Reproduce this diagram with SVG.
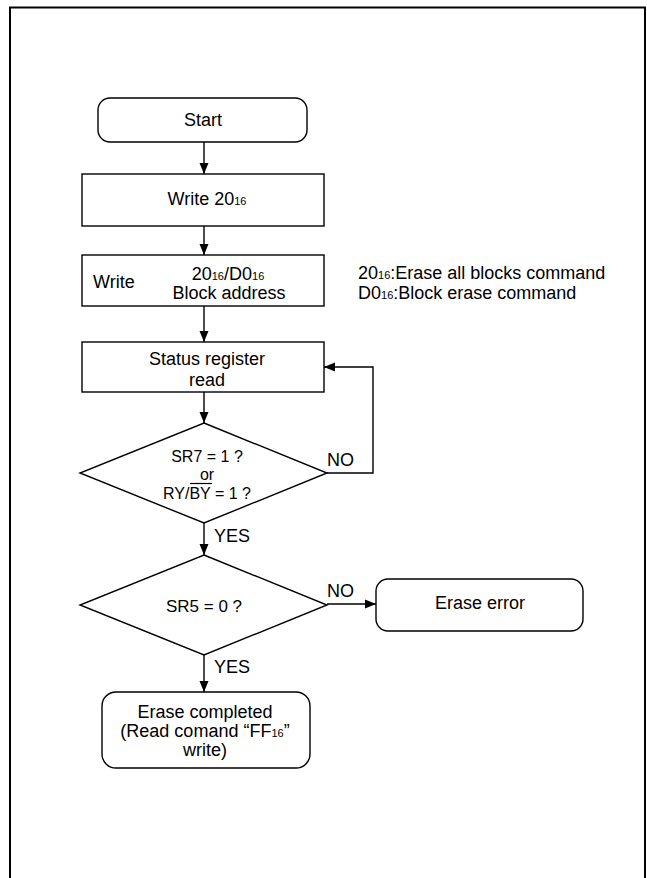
<svg xmlns="http://www.w3.org/2000/svg" width="647" height="878" viewBox="0 0 647 878">
<style>
.box{fill:#fff;stroke:#000;stroke-width:1.4}
.t{font-family:"Liberation Sans",Arial,sans-serif;font-size:18px;fill:#000}
.s{font-size:16px}
.c{text-anchor:middle}
.sub{font-size:11px}
.ln{fill:none;stroke:#000;stroke-width:1.4}
</style>
<defs>
<marker id="ah" markerUnits="userSpaceOnUse" markerWidth="12" markerHeight="12" viewBox="0 0 12 12" refX="11" refY="6" orient="auto">
<path d="M0,1.5 L11,6 L0,10.5 Z" fill="#000"/>
</marker>
</defs>
<rect x="10" y="7.5" width="635" height="900" fill="#fff" stroke="#000" stroke-width="2"/>

<g id="start">
<rect class="box" x="98" y="98" width="209" height="44" rx="12"/>
<text class="t c" x="203" y="126">Start</text>
</g>
<g id="write20">
<rect class="box" x="82" y="174" width="242" height="52"/>
<text class="t c" x="207" y="205">Write 20<tspan class="sub">16</tspan></text>
</g>
<g id="writeblock">
<rect class="box" x="82" y="255" width="242" height="51"/>
<text class="t" x="93" y="288">Write</text>
<text class="t c" x="228" y="280">20<tspan class="sub">16</tspan>/D0<tspan class="sub">16</tspan></text>
<text class="t c" x="229" y="299">Block address</text>
</g>
<g id="note">
<text class="t" x="358" y="279">20<tspan class="sub">16</tspan>:Erase all blocks command</text>
<text class="t" x="358" y="299">D0<tspan class="sub">16</tspan>:Block erase command</text>
</g>
<g id="status">
<rect class="box" x="82" y="342" width="242" height="50"/>
<text class="t c" x="207" y="365">Status register</text>
<text class="t c" x="207" y="386">read</text>
</g>
<g id="dec1">
<polygon class="box" points="204,423 327,473 204,523 80,473"/>
<text class="t s c" x="207" y="462">SR7 = 1 ?</text>
<text class="t s c" x="207" y="480">or</text>
<text class="t s c" x="207" y="499">RY/BY = 1 ?</text>
<line x1="190" y1="483.5" x2="212" y2="483.5" stroke="#000" stroke-width="1.2"/>
</g>
<g id="dec2">
<polygon class="box" points="204,555 327,605 204,655 80,605"/>
<text class="t c" x="204" y="612" style="font-size:17px">SR5 = 0 ?</text>
</g>
<g id="error">
<rect class="box" x="376" y="579" width="207" height="52" rx="12"/>
<text class="t c" x="480" y="609">Erase error</text>
</g>
<g id="done">
<rect class="box" x="102" y="692" width="208" height="76" rx="14"/>
<text class="t c" x="205" y="718">Erase completed</text>
<text class="t c" x="205" y="737">(Read comand “FF<tspan class="sub">16</tspan>”</text>
<text class="t c" x="205" y="756">write)</text>
</g>
<g id="connectors">
<line class="ln" x1="204" y1="142" x2="204" y2="174" marker-end="url(#ah)"/>
<line class="ln" x1="204" y1="226" x2="204" y2="255" marker-end="url(#ah)"/>
<line class="ln" x1="204" y1="306" x2="204" y2="342" marker-end="url(#ah)"/>
<line class="ln" x1="204" y1="392" x2="204" y2="423" marker-end="url(#ah)"/>
<polyline class="ln" points="327,473 373,473 373,367 324,367" marker-end="url(#ah)"/>
<line class="ln" x1="204" y1="523" x2="204" y2="555" marker-end="url(#ah)"/>
<line class="ln" x1="327" y1="604" x2="376" y2="604" marker-end="url(#ah)"/>
<line class="ln" x1="204" y1="655" x2="204" y2="692" marker-end="url(#ah)"/>
<text class="t" x="327" y="466">NO</text>
<text class="t" x="214" y="542">YES</text>
<text class="t" x="327" y="597">NO</text>
<text class="t" x="214" y="673">YES</text>
</g>
</svg>
